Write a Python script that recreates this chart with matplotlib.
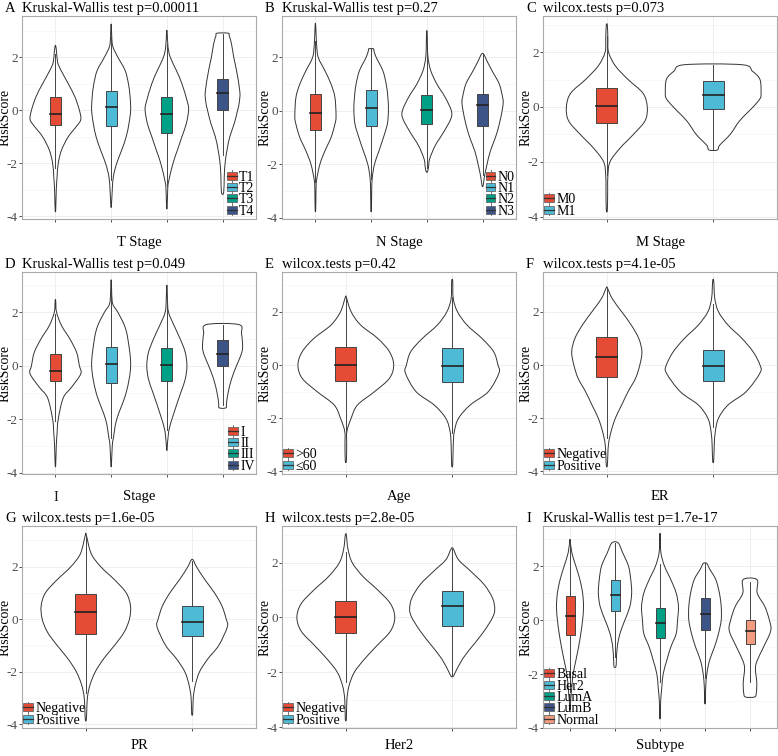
import matplotlib
matplotlib.use("Agg")
import matplotlib.pyplot as plt
from matplotlib.path import Path
from matplotlib.patches import PathPatch, Rectangle, Patch
from matplotlib.lines import Line2D
from matplotlib.legend_handler import HandlerBase
import numpy as np

plt.rcParams['font.family'] = ['Liberation Serif', 'DejaVu Serif']
plt.rcParams['axes.unicode_minus'] = False

palette = ["#E64B35", "#4DBBD5", "#00A087", "#3C5488", "#F39B7F"]

# ---- panel data: violin profiles are (y, half-width),
# ---- boxes are (q1, median, q3)
t_labels = ["T1", "T2", "T3", "T4"]
t_box = [(-0.57, -0.16, 0.5), (-0.61, 0.11, 0.74), (-0.84, -0.16, 0.5), (0.02, 0.65, 1.16)]
t_violin = [
    [(-3.75, .005), (-3, .015), (-2.5, .03), (-2, .05), (-1.5, .11), (-1, .23), (-0.6, .38), (-0.35, .455),
     (0, .43), (0.5, .35), (1, .23), (1.5, .1), (1.8, .04), (2.2, .02), (2.42, .005)],
    [(-3.6, .005), (-3, .02), (-2.5, .04), (-2, .1), (-1.5, .19), (-1, .27), (-0.5, .32), (0, .35),
     (0.5, .34), (1, .31), (1.5, .25), (2, .12), (2.4, .03), (2.8, .01), (3.2, .005)],
    [(-3.65, .005), (-3, .015), (-2.7, .03), (-2, .11), (-1.5, .19), (-1, .27), (-0.5, .35), (0, .39),
     (0.3, .37), (1, .27), (1.5, .17), (2, .06), (2.4, .02), (2.95, .005)],
    [(-3.1, .02), (-2.5, .03), (-2, .045), (-1.5, .08), (-1, .13), (-0.5, .21), (0, .27), (0.3, .3),
     (0.7, .31), (1.5, .25), (2, .2), (2.5, .16), (2.8, .12), (2.9, .1)],
]

n_labels = ["N0", "N1", "N2", "N3"]
n_box = [(-0.7, -0.1, 0.62), (-0.55, 0.12, 0.78), (-0.5, 0.02, 0.6), (-0.58, 0.2, 0.63)]
n_violin = [
    [(-3.7, .005), (-3, .01), (-2.6, .02), (-2, .08), (-1.5, .17), (-1, .28), (-0.5, .35), (-0.2, .37),
     (0.5, .35), (1, .28), (1.5, .17), (2, .05), (2.5, .02), (3.2, .005)],
    [(-3.7, .005), (-3, .01), (-2.5, .02), (-2, .06), (-1.5, .14), (-1, .22), (-0.5, .29), (0, .31),
     (0.5, .3), (1, .27), (1.5, .21), (2, .09), (2.25, .05), (2.32, .04)],
    [(-2.28, .01), (-2.1, .03), (-1.8, .05), (-1.3, .15), (-0.8, .3), (-0.3, .43), (0, .44), (0.5, .33),
     (1, .18), (1.5, .07), (2, .02), (2.5, .01), (2.95, .005)],
    [(-2.8, .01), (-2.5, .03), (-2, .08), (-1.5, .14), (-1, .23), (-0.5, .3), (0, .35), (0.3, .37),
     (0.5, .36), (1, .3), (1.5, .17), (1.9, .07), (2.12, .02)],
]

m_labels = ["M0", "M1"]
m_box = [(-0.57, 0.03, 0.7), (-0.08, 0.44, 0.94)]
m_violin = [
    [(-3.75, .005), (-3, .008), (-2.5, .01), (-2, .03), (-1.5, .125), (-1, .25), (-0.5, .36), (0, .38),
     (0.5, .34), (1, .2), (1.5, .08), (2, .016), (2.5, .01), (2.98, .005)],
    [(-1.57, .04), (-1.4, .06), (-1, .16), (-0.5, .25), (0, .375), (0.3, .44), (0.5, .45), (1, .44),
     (1.3, .37), (1.54, .27)],
]

s_labels = ["I", "II", "III", "IV"]
s_box = [(-0.56, -0.18, 0.44), (-0.65, 0.08, 0.71), (-0.57, 0.04, 0.65), (0.0, 0.45, 0.98)]
s_violin = [
    [(-3.7, .005), (-3, .015), (-2.5, .03), (-2, .05), (-1.2, .14), (-0.8, .29), (-0.3, .455), (0, .43),
     (0.5, .38), (1, .26), (1.5, .11), (2, .02), (2.43, .005)],
    [(-3.7, .005), (-3, .02), (-2.7, .04), (-2, .1), (-1, .27), (0, .35), (1, .3), (1.5, .24),
     (2, .12), (2.3, .03), (2.7, .01), (3.16, .005)],
    [(-3.1, .005), (-2.5, .03), (-2, .09), (-1, .25), (-0.5, .33), (0, .36), (0.5, .33), (1, .24),
     (1.5, .13), (2, .03), (2.5, .01), (2.96, .005)],
    [(-1.57, .06), (-1.4, .07), (-1, .1), (-0.5, .16), (0, .25), (0.4, .33), (0.7, .36), (1.2, .34),
     (1.54, .29)],
]

age_labels = [">60", "\u226460"]
age_box = [(-0.6, 0.0, 0.68), (-0.65, -0.02, 0.63)]
age_violin = [
    [(-3.6, .005), (-3, .008), (-2.5, .01), (-2, .05), (-1.5, .11), (-1, .27), (-0.5, .41), (0, .45),
     (0.5, .41), (1, .3), (1.5, .14), (2, .05), (2.54, .005)],
    [(-3.75, .005), (-3, .01), (-2.5, .02), (-2, .06), (-1.5, .17), (-1, .34), (-0.3, .44), (0, .43),
     (0.5, .39), (1, .28), (1.5, .14), (2, .05), (2.5, .01), (3.15, .005)],
]

er_labels = ["Negative", "Positive"]
er_box = [(-0.46, 0.3, 1.05), (-0.6, -0.05, 0.56)]
er_violin = [
    [(-3.75, .005), (-3, .015), (-2.5, .04), (-2, .08), (-1.5, .14), (-1, .2), (-0.5, .27), (0, .31),
     (0.5, .33), (1, .3), (1.5, .23), (2, .14), (2.5, .05), (2.9, .005)],
    [(-3.6, .005), (-3, .01), (-2.5, .02), (-2, .05), (-1.5, .14), (-1, .31), (-0.3, .44), (0, .44),
     (0.5, .375), (1, .27), (1.5, .14), (2, .05), (2.5, .015), (3.15, .005)],
]

pr_labels = ["Negative", "Positive"]
pr_box = [(-0.56, 0.28, 0.95), (-0.65, -0.1, 0.5)]
pr_violin = [
    [(-3.8, .005), (-3, .015), (-2.5, .04), (-2, .09), (-1.5, .17), (-1, .27), (-0.5, .36), (0, .41),
     (0.5, .42), (1, .38), (1.5, .27), (2, .14), (2.5, .05), (3.2, .005)],
    [(-3.6, .005), (-3, .01), (-2.5, .03), (-2, .07), (-1.5, .15), (-1, .25), (-0.3, .33), (0, .32),
     (0.5, .28), (1, .21), (1.5, .12), (2, .04), (2.25, .01)],
]

her2_labels = ["Negative", "Positive"]
her2_box = [(-0.58, 0.0, 0.6), (-0.3, 0.4, 0.98)]
her2_violin = [
    [(-3.7, .005), (-3, .01), (-2.5, .03), (-2, .08), (-1.5, .18), (-1, .3), (-0.5, .42), (0, .46),
     (0.5, .42), (1, .3), (1.5, .16), (2, .06), (2.5, .02), (3.0, .005)],
    [(-2.15, .01), (-2, .03), (-1.5, .1), (-1, .2), (-0.5, .3), (0, .38), (0.3, .4), (0.7, .38),
     (1.2, .3), (1.7, .17), (2.1, .06), (2.5, .01)],
]

sub_labels = ["Basal", "Her2", "LumA", "LumB", "Normal"]
sub_box = [(-0.54, 0.17, 0.88), (0.34, 0.93, 1.48), (-0.66, -0.12, 0.44), (-0.37, 0.22, 0.82),
           (-0.9, -0.4, 0.02)]
sub_violin = [
    [(-3.3, .005), (-3, .015), (-2.5, .04), (-2, .07), (-1.5, .13), (-1, .19), (-0.5, .24), (0, .28),
     (0.5, .3), (1, .28), (1.5, .22), (2, .13), (2.5, .04), (2.95, .005)],
    [(-1.73, .02), (-1.5, .03), (-1, .05), (-0.5, .11), (0, .22), (0.5, .33), (1, .37), (1.5, .35),
     (2, .3), (2.5, .17), (2.86, .07)],
    [(-3.6, .005), (-3, .015), (-2.5, .04), (-2, .07), (-1.5, .15), (-1, .24), (-0.5, .36), (0, .39),
     (0.5, .41), (1, .36), (1.5, .24), (2, .1), (2.5, .02), (3.15, .005)],
    [(-3.05, .005), (-2.5, .015), (-2, .04), (-1.5, .1), (-1, .21), (-0.5, .3), (0, .36), (0.5, .36),
     (1, .32), (1.5, .24), (1.9, .1), (2.1, .04)],
    [(-2.85, .1), (-2.7, .14), (-2.3, .15), (-1.8, .12), (-1.5, .16), (-1, .3), (-0.4, .46), (0, .43),
     (0.5, .33), (1, .16), (1.5, .155)],
]

panels = [
    ("A", "Kruskal-Wallis test p=0.00011", "T Stage", t_labels, t_box, t_violin, "lower right"),
    ("B", "Kruskal-Wallis test p=0.27", "N Stage", n_labels, n_box, n_violin, "lower right"),
    ("C", "wilcox.tests p=0.073", "M Stage", m_labels, m_box, m_violin, "lower left"),
    ("D", "Kruskal-Wallis test p=0.049", "Stage", s_labels, s_box, s_violin, "lower right"),
    ("E", "wilcox.tests p=0.42", "Age", age_labels, age_box, age_violin, "lower left"),
    ("F", "wilcox.tests p=4.1e-05", "ER", er_labels, er_box, er_violin, "lower left"),
    ("G", "wilcox.tests p=1.6e-05", "PR", pr_labels, pr_box, pr_violin, "lower left"),
    ("H", "wilcox.tests p=2.8e-05", "Her2", her2_labels, her2_box, her2_violin, "lower left"),
    ("I", "Kruskal-Wallis test p=1.7e-17", "Subtype", sub_labels, sub_box, sub_violin, "lower left"),
]


def violin_path(cx, prof):
    # closed smooth outline (Catmull-Rom -> cubic Bezier) through the read points
    pts = [(cx + w, y) for y, w in prof] + [(cx - w, y) for y, w in reversed(prof)]
    pts = np.array(pts)
    n = len(pts)
    verts = [pts[0]]
    codes = [Path.MOVETO]
    for i in range(n):
        p0, p1, p2, p3 = pts[i - 1], pts[i], pts[(i + 1) % n], pts[(i + 2) % n]
        verts += [p1 + (p2 - p0) / 6, p2 - (p3 - p1) / 6, p2]
        codes += [Path.CURVE4] * 3
    return Path(verts, codes)


class BoxKey(HandlerBase):
    def create_artists(self, legend, orig, xd, yd, w, h, fontsize, trans):
        x0, y0 = -xd, -yd
        wl = Line2D([x0 + w / 2] * 2, [y0 - 0.2 * h, y0 + 1.2 * h], color="#777777", lw=0.7)
        rect = Rectangle((x0, y0), w, h, fc=orig.get_facecolor(), ec="#666666", lw=0.6)
        med = Line2D([x0, x0 + w], [y0 + h / 2] * 2, color="#333333", lw=0.9)
        for a in (wl, rect, med):
            a.set_transform(trans)
        return [wl, rect, med]


fig = plt.figure(figsize=(7.78, 7.56), dpi=100)
W, H = 778, 756
col_left = [22, 282, 543]
row_top = [16, 272, 526]
row_h = [203, 202, 202]
xlab_off = [17, 16, 11]
aw = 234

for k, (tag, title, xlabel, labels, boxes, violins, legloc) in enumerate(panels):
    r, c = divmod(k, 3)
    ah = row_h[r]
    ax = fig.add_axes([col_left[c] / W, 1 - (row_top[r] + ah) / H, aw / W, ah / H])
    n = len(labels)
    ys_all = [y for prof in violins for y, _ in prof]
    lo, hi = min(ys_all), max(ys_all)
    pad = (hi - lo) * 0.05
    ax.set_ylim(lo - pad, hi + pad)
    ax.set_xlim(0.4, n + 0.6)
    ax.set_axisbelow(True)

    handles = []
    for i in range(n):
        cx = i + 1
        col = palette[i]
        prof = violins[i]
        ax.add_patch(PathPatch(violin_path(cx, prof), fc="white", ec="#333333", lw=0.7, zorder=2))
        q1, med, q3 = boxes[i]
        iqr = q3 - q1
        top = min(prof[-1][0], q3 + 1.5 * iqr)
        bot = max(prof[0][0], q1 - 1.5 * iqr)
        ax.plot([cx, cx], [bot, top], color="#444444", lw=0.7, zorder=3)
        ax.add_patch(Rectangle((cx - 0.1, q1), 0.2, iqr, fc=col, ec="#444444", lw=0.7, zorder=4))
        ax.plot([cx - 0.1, cx + 0.1], [med, med], color="#222222", lw=1.2, zorder=5)
        handles.append(Patch(facecolor=col))

    ax.set_xticks(range(1, n + 1))
    ax.set_xticklabels(["I"] + [""] * (n - 1) if tag == "D" else [""] * n)
    ax.set_yticks([-4, -2, 0, 2])
    ax.set_yticks([-3, -1, 1, 3], minor=True)
    ax.tick_params(axis="both", which="major", length=2.5, width=0.6, color="#333333",
                   labelsize=9.5, labelcolor="#4D4D4D", pad=0.5)
    ax.tick_params(axis="x", which="major", pad=10, labelcolor="#1A1A1A", labelsize=10.5)
    ax.tick_params(axis="y", which="minor", length=0)
    ax.grid(True, which="major", color="#EBEBEB", lw=0.6)
    ax.grid(True, which="minor", axis="y", color="#F2F2F2", lw=0.4)
    for s in ax.spines.values():
        s.set_color("#AAAAAA")
        s.set_linewidth(0.8)
    ax.set_ylabel("RiskScore", fontsize=10)
    ax.yaxis.set_label_coords(-10 / aw, 0.5)
    ax.set_xlabel(xlabel, fontsize=10.5)
    ax.xaxis.set_label_coords(0.5, -xlab_off[r] / ah)
    ax.set_title(title, loc="left", fontsize=10.5, pad=3)
    fig.text((col_left[c] - 17) / W, 1 - (row_top[r] - 8) / H, tag, fontsize=10.5,
             ha="left", va="center")

    ax.legend(handles, labels, handler_map={Patch: BoxKey()}, loc=legloc, frameon=False,
              fontsize=10, handlelength=0.7, handleheight=0.5, handletextpad=0.15,
              labelspacing=-0.12, borderaxespad=0.0, borderpad=0.1)

fig.savefig("out.png", dpi=100)
